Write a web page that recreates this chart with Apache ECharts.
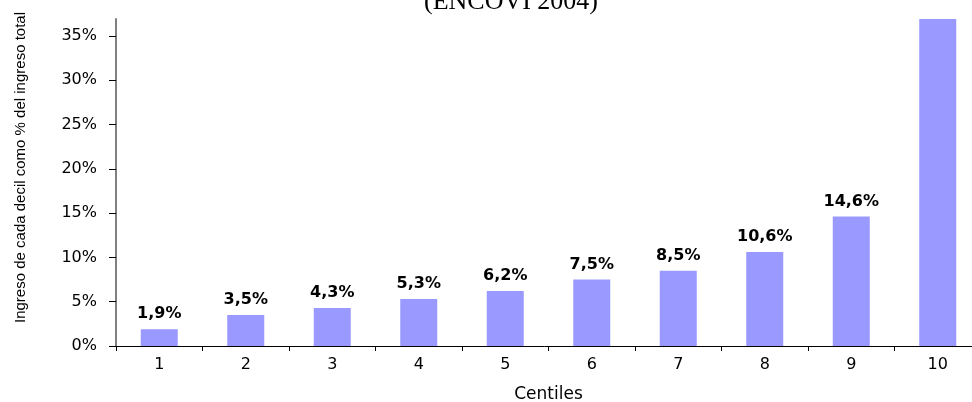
<!DOCTYPE html>
<html>
<head>
<meta charset="utf-8">
<script src="https://cdn.jsdelivr.net/npm/echarts@6/dist/echarts.min.js"></script>
<style>html,body{margin:0;padding:0;background:#fff}#c{width:972px;height:402px}</style>
</head>
<body>
<div id="c"></div>
<script>
const categories = ['1','2','3','4','5','6','7','8','9','10'];
const values = [1.9, 3.5, 4.3, 5.3, 6.2, 7.5, 8.5, 10.6, 14.6, 37.6];
const titleText = '(ENCOVI 2004)';
const yAxisName = 'Ingreso de cada decil como % del ingreso total';
const xAxisName = 'Centiles';

const chart = echarts.init(document.getElementById('c'), null, {renderer: 'canvas'});
const fmt = v => v.toFixed(1).replace('.', ',') + '%';
chart.setOption({
  animation: false,
  title: {
    text: titleText,
    left: 419, top: -16,
    textStyle: {fontFamily: 'Liberation Serif', fontSize: 26, fontWeight: 'normal', color: '#000'}
  },
  grid: {left: 116, right: -9, top: 19, bottom: 56, containLabel: false, outerBoundsMode: 'none'},
  xAxis: {
    type: 'category',
    data: categories,
    name: xAxisName,
    nameLocation: 'middle',
    nameGap: 40,
    nameTextStyle: {fontFamily: 'DejaVu Sans', fontSize: 17, color: '#000'},
    axisLine: {lineStyle: {color: '#000', width: 1}},
    axisTick: {show: true, length: 5, lineStyle: {color: '#000'}},
    axisLabel: {margin: 11, fontFamily: 'DejaVu Sans', fontSize: 16, color: '#000'}
  },
  yAxis: {
    type: 'value',
    min: 0, max: 36.9, interval: 5,
    name: yAxisName,
    nameLocation: 'middle',
    nameRotate: 90,
    nameGap: 88,
    nameTextStyle: {fontFamily: 'Liberation Sans', fontSize: 15, color: '#000', padding: [0, 0, 0, 30]},
    axisLine: {show: true, lineStyle: {color: '#808080', width: 2}},
    axisTick: {show: true, length: 7, lineStyle: {color: '#000'}},
    splitLine: {show: false},
    axisLabel: {showMaxLabel: false, margin: 19, fontFamily: 'DejaVu Sans', fontSize: 16, color: '#000',
      formatter: v => v + '%'}
  },
  series: [{
    type: 'bar',
    data: values.map((v, i) => i === values.length - 1 ? {value: v, label: {show: false}} : v),
    barWidth: 37,
    itemStyle: {color: '#9999FF'},
    clip: true,
    label: {
      show: true, position: 'top', distance: 7,
      fontFamily: 'DejaVu Sans', fontSize: 16, fontWeight: 'bold', color: '#000',
      formatter: p => fmt(p.value)
    }
  }]
});
</script>
</body>
</html>
